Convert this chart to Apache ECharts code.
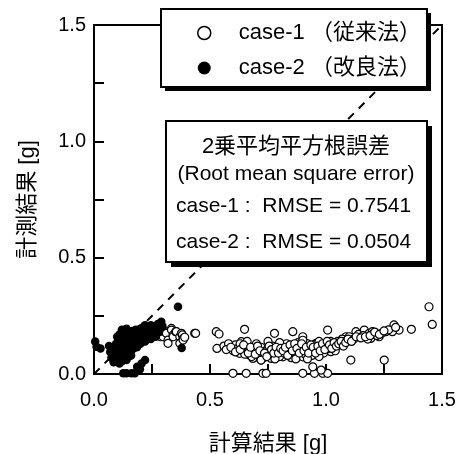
<!DOCTYPE html>
<html>
<head>
<meta charset="utf-8">
<script src="https://cdn.jsdelivr.net/npm/echarts@6/dist/echarts.min.js"></script>
<style>html,body{margin:0;padding:0;background:#fff}#c{width:465px;height:454px}</style>
</head>
<body>
<div id="c"></div>
<script>
const FONT = "'Liberation Sans', 'Noto Sans CJK JP', sans-serif";
const seriesNames = ['case-1 （従来法）', 'case-2 （改良法）'];
const xAxisName = '計算結果 [g]';
const yAxisName = '計測結果 [g]';
const axisLabelValues = [0, 0.5, 1.0, 1.5];
const axisLabels = ['0.0', '0.5', '1.0', '1.5'];
const rmseTitle = '2乗平均平方根誤差';
const rmseSub = '(Root mean square error)';
const rmseLines = ['case-1 :  RMSE = 0.7541', 'case-2 :  RMSE = 0.0504'];
const refLine = [[0, 0], [1.5, 1.5]];

// case-1 (conventional method) - open circles
const case1Points = [
  [0.287,0.160],[0.298,0.182],[0.298,0.160],[0.305,0.182],[0.312,0.175],[0.319,0.146],[0.319,0.132],
  [0.334,0.196],[0.334,0.189],[0.341,0.168],[0.341,0.160],[0.352,0.182],[0.355,0.182],[0.370,0.160],
  [0.370,0.132],[0.377,0.175],[0.381,0.168],[0.384,0.153],[0.384,0.146],[0.391,0.158],[0.434,0.175],
  [0.438,0.175],[0.527,0.182],[0.539,0.172],[0.530,0.110],[0.570,0.110],[0.584,0.125],[0.649,0.192],
  [0.635,0.139],[0.642,0.117],[0.627,0.089],[0.670,0.082],[0.685,0.067],[0.720,0.060],[0.728,0.096],
  [0.756,0.082],[0.778,0.175],[0.764,0.067],[0.799,0.103],[0.814,0.074],[0.857,0.182],[0.842,0.117],
  [0.857,0.082],[0.878,0.125],[0.900,0.160],[0.914,0.132],[0.900,0.074],[0.943,0.096],[0.957,0.132],
  [1.007,0.189],[1.000,0.132],[1.021,0.096],[1.043,0.132],[1.086,0.160],[1.107,0.060],[1.129,0.182],
  [1.165,0.189],[1.186,0.175],[1.193,0.153],[1.229,0.160],[1.251,0.060],[1.258,0.182],[1.293,0.211],
  [1.315,0.189],[1.368,0.192],[1.444,0.289],[1.458,0.213],[1.286,0.182],[1.200,0.182],[1.143,0.168],
  [0.56,0.12],[0.58,0.13],[0.60,0.10],[0.61,0.125],[0.62,0.11],[0.63,0.13],[0.64,0.10],[0.65,0.085],
  [0.66,0.12],[0.67,0.10],[0.68,0.075],[0.69,0.11],[0.70,0.095],[0.71,0.08],[0.72,0.115],[0.73,0.07],
  [0.74,0.10],[0.75,0.11],[0.76,0.09],[0.77,0.12],[0.78,0.085],[0.79,0.105],[0.80,0.075],[0.81,0.12],
  [0.82,0.09],[0.83,0.13],[0.84,0.10],[0.85,0.07],[0.86,0.115],[0.87,0.09],[0.88,0.135],[0.89,0.10],
  [0.90,0.12],[0.91,0.085],[0.92,0.13],[0.93,0.105],[0.94,0.08],[0.95,0.125],[0.96,0.10],[0.97,0.14],
  [0.98,0.115],[0.99,0.09],[1.00,0.125],[1.01,0.11],[1.02,0.14],[1.03,0.12],[1.04,0.10],[1.05,0.14],
  [1.06,0.125],[1.07,0.15],[1.08,0.13],[1.09,0.145],[1.10,0.16],[1.12,0.15],[1.14,0.17],[1.16,0.165],
  [1.18,0.15],[1.20,0.17],[1.22,0.165],[1.24,0.175],[1.27,0.19],[1.30,0.20],
  [0.80,0.135],[0.70,0.13],[0.90,0.145],[0.75,0.14],[0.66,0.14],[0.72,0.06],[0.78,0.065],[0.92,0.065],
  [0.97,0.075],[0.87,0.065],
  [0.57,0.105],[0.59,0.115],[0.61,0.095],[0.63,0.105],[0.645,0.125],[0.665,0.09],[0.675,0.115],
  [0.695,0.085],[0.705,0.12],[0.715,0.10],[0.735,0.09],[0.745,0.075],[0.755,0.12],[0.765,0.105],
  [0.775,0.09],[0.785,0.115],[0.795,0.09],[0.805,0.11],[0.815,0.10],[0.825,0.115],[0.835,0.08],
  [0.845,0.125],[0.855,0.10],[0.865,0.13],[0.875,0.11],[0.885,0.09],[0.895,0.13],[0.905,0.10],
  [0.915,0.115],[0.925,0.09],[0.935,0.125],[0.945,0.115],[0.955,0.09],[0.965,0.12],[0.975,0.10],
  [0.985,0.13],[0.995,0.105],[1.005,0.14],[1.015,0.125],[1.025,0.11],[1.035,0.135],[1.045,0.12],
  [1.055,0.13],[1.065,0.14],[1.075,0.12],[1.085,0.135],[1.095,0.15],[1.11,0.14],[1.13,0.16],
  [1.15,0.155],[1.17,0.16],[1.19,0.165],[1.21,0.18],[1.23,0.17],[1.25,0.185],
  [0.599,0.003],[0.656,0.003],[0.728,0.003],[0.742,0.003],[0.900,0.003],[0.950,0.003],[0.986,0.003],
  [1.007,0.003],[0.943,0.031],[0.979,0.017]
];

// case-2 (improved method) - filled circles
const case2Points = [
  [0.005,0.140],[0.011,0.117],[0.028,0.110],[0.065,0.120],[0.070,0.095],
  [0.075,0.070],[0.080,0.090],[0.085,0.110],[0.090,0.075],[0.095,0.130],[0.100,0.100],[0.100,0.080],
  [0.105,0.145],[0.110,0.120],[0.110,0.065],[0.115,0.090],[0.120,0.160],[0.120,0.110],[0.125,0.135],
  [0.125,0.080],[0.130,0.175],[0.130,0.100],[0.135,0.150],[0.135,0.120],[0.140,0.090],[0.140,0.180],
  [0.145,0.135],[0.150,0.160],[0.150,0.110],[0.155,0.130],[0.155,0.175],[0.160,0.100],[0.160,0.145],
  [0.165,0.185],[0.165,0.120],[0.170,0.155],[0.170,0.130],[0.175,0.170],[0.180,0.140],[0.180,0.190],
  [0.185,0.115],[0.190,0.160],[0.190,0.175],[0.195,0.145],[0.200,0.195],[0.200,0.130],[0.205,0.170],
  [0.210,0.155],[0.210,0.200],[0.215,0.180],[0.220,0.140],[0.220,0.210],[0.225,0.190],[0.230,0.165],
  [0.235,0.200],[0.240,0.180],[0.245,0.150],[0.250,0.190],[0.255,0.170],[0.260,0.205],[0.265,0.160],
  [0.270,0.195],[0.275,0.215],[0.280,0.180],[0.290,0.225],[0.295,0.205],[0.085,0.050],[0.095,0.060],
  [0.120,0.055],[0.362,0.289],[0.378,0.112],[0.220,0.060],[0.205,0.045],
  [0.080,0.075],[0.090,0.095],[0.095,0.085],[0.105,0.070],[0.105,0.110],[0.115,0.130],[0.120,0.095],
  [0.130,0.070],[0.130,0.140],[0.140,0.110],[0.145,0.165],[0.150,0.090],[0.160,0.165],[0.165,0.140],
  [0.170,0.110],[0.175,0.150],[0.180,0.165],[0.185,0.180],[0.190,0.140],[0.195,0.185],[0.200,0.160],
  [0.205,0.190],[0.210,0.175],[0.215,0.150],[0.225,0.175],[0.230,0.200],[0.240,0.190],[0.245,0.210],
  [0.250,0.175],[0.260,0.190],[0.270,0.175],[0.280,0.200],[0.285,0.210],[0.140,0.060],[0.110,0.045],
  [0.100,0.055],[0.150,0.075],[0.160,0.080],[0.110,0.170],[0.120,0.190],[0.140,0.195],[0.100,0.160],
  [0.126,0.003],[0.140,0.003],[0.162,0.003],[0.176,0.003],[0.186,0.031],[0.198,0.020]
];

const chart = echarts.init(document.getElementById('c'), null, {renderer: 'canvas'});

function fmt(v) {
  for (let i = 0; i < axisLabelValues.length; i++) {
    if (Math.abs(axisLabelValues[i] - v) < 1e-9) return axisLabels[i];
  }
  return String(v);
}

function makeAxis(name, nameGap, margin) {
  return {
    type: 'value', min: 0, max: 1.5, interval: 0.5,
    name: name, nameLocation: 'middle', nameGap: nameGap,
    nameTextStyle: {fontSize: 22, color: '#000', fontFamily: FONT},
    axisLine: {show: true, onZero: false, lineStyle: {color: '#000', width: 2}},
    axisTick: {show: true, inside: true, length: 10, lineStyle: {color: '#000', width: 2}},
    minorTick: {show: true, splitNumber: 2, length: 10, lineStyle: {color: '#000', width: 2}},
    axisLabel: {fontSize: 20, color: '#000', fontFamily: FONT, formatter: fmt, margin: margin},
    splitLine: {show: false},
    minorSplitLine: {show: false}
  };
}

chart.setOption({
  animation: false,
  backgroundColor: '#fff',
  grid: {left: 94, right: 23, top: 25, bottom: 80, outerBoundsMode: 'none', containLabel: false,
         show: true, borderColor: '#000', borderWidth: 2, backgroundColor: 'rgba(0,0,0,0)'},
  xAxis: makeAxis(xAxisName, 59, 16),
  yAxis: makeAxis(yAxisName, 55, 8),
  legend: {
    orient: 'vertical', left: 197, top: 22, padding: 0, itemGap: 13,
    itemWidth: 13, itemHeight: 13, z: 10,
    textStyle: {fontSize: 22, lineHeight: 22, color: '#000', fontFamily: FONT, padding: [0, 0, 0, 23]},
    data: [
      {name: seriesNames[0], icon: 'circle', itemStyle: {color: '#fff', borderColor: '#000', borderWidth: 1.5}},
      {name: seriesNames[1], icon: 'circle', itemStyle: {color: '#000', borderColor: '#000', borderWidth: 0}}
    ]
  },
  graphic: [
    {type: 'rect', z: 5, shape: {x: 165, y: 13, width: 266, height: 78}, style: {fill: '#000'}},
    {type: 'rect', z: 6, shape: {x: 161, y: 9, width: 266, height: 78}, style: {fill: '#fff', stroke: '#000', lineWidth: 2}},
    {type: 'rect', z: 5, shape: {x: 171, y: 126, width: 261, height: 141}, style: {fill: '#000'}},
    {type: 'rect', z: 6, shape: {x: 166, y: 121, width: 261, height: 141}, style: {fill: '#fff', stroke: '#000', lineWidth: 2}},
    {type: 'text', z: 7, x: 296, y: 147, style: {text: rmseTitle, font: '22px ' + FONT, fill: '#000', textAlign: 'center', textVerticalAlign: 'middle'}},
    {type: 'text', z: 7, x: 296, y: 174, style: {text: rmseSub, font: '21px ' + FONT, fill: '#000', textAlign: 'center', textVerticalAlign: 'middle'}},
    {type: 'text', z: 7, x: 176, y: 206, style: {text: rmseLines[0], font: '21px ' + FONT, fill: '#000', textAlign: 'left', textVerticalAlign: 'middle'}},
    {type: 'text', z: 7, x: 176, y: 242, style: {text: rmseLines[1], font: '21px ' + FONT, fill: '#000', textAlign: 'left', textVerticalAlign: 'middle'}}
  ],
  series: [
    {
      type: 'line', name: 'y=x', data: refLine, symbol: 'none', silent: true, z: 1,
      lineStyle: {color: '#000', width: 2, type: [8, 7]}
    },
    {
      type: 'scatter', name: seriesNames[0], data: case1Points, symbol: 'circle', symbolSize: 8, z: 2,
      itemStyle: {color: '#fff', borderColor: '#000', borderWidth: 1.2, opacity: 1}
    },
    {
      type: 'scatter', name: seriesNames[1], data: case2Points, symbol: 'circle', symbolSize: 8.5, z: 3,
      itemStyle: {color: '#000', borderColor: '#000', borderWidth: 0, opacity: 1}
    }
  ]
});
</script>
</body>
</html>
